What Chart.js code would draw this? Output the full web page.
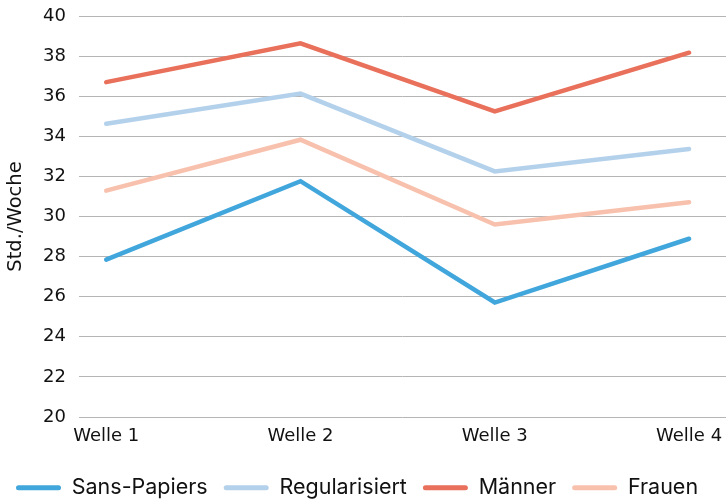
<!DOCTYPE html>
<html>
<head>
<meta charset="utf-8">
<script src="https://cdn.jsdelivr.net/npm/chart.js@4.4.1/dist/chart.umd.min.js"></script>
<style>
  html, body { margin: 0; padding: 0; background: #fff; }
  #wrap { width: 726px; height: 500px; }
</style>
</head>
<body>
<div id="wrap"><canvas id="chart"></canvas></div>
<script>
var waves = ['Welle 1', 'Welle 2', 'Welle 3', 'Welle 4'];
var sansPapiers = [27.85, 31.76, 25.71, 28.89];
var regularisiert = [34.63, 36.13, 32.25, 33.37];
var maenner = [36.70, 38.64, 35.24, 38.17];
var frauen = [31.29, 33.83, 29.60, 30.71];
var yTicks = [20, 22, 24, 26, 28, 30, 32, 34, 36, 38, 40];

function points(values) {
  return values.map(function (v, i) { return { x: i, y: v }; });
}

function series(label, values, color) {
  return {
    label: label,
    data: points(values),
    borderColor: color,
    backgroundColor: color,
    borderWidth: 4.5,
    pointRadius: 0,
    borderCapStyle: 'round',
    borderJoinStyle: 'miter',
    tension: 0
  };
}

// legend keeps its side padding but takes less height
var legendHeight = {
  id: 'legendHeight',
  afterInit: function (chart) {
    var lg = chart.legend;
    var fit = lg.fit;
    lg.fit = function () {
      fit.call(this);
      this.height = 39;
    };
  }
};

var ctx = document.getElementById('chart').getContext('2d');

new Chart(ctx, {
  type: 'line',
  plugins: [legendHeight],
  data: {
    datasets: [
      series('Sans-Papiers', sansPapiers, '#41a6dc'),
      series('Regularisiert', regularisiert, '#b4d1ec'),
      series('Männer', maenner, '#e9705b'),
      series('Frauen', frauen, '#f8c1ad')
    ]
  },
  options: {
    responsive: true,
    maintainAspectRatio: false,
    animation: false,
    layout: { padding: { top: 16, right: 0, left: 0, bottom: 0 } },
    scales: {
      x: {
        type: 'linear',
        min: -0.14,
        max: 3.19,
        grid: { display: false, drawTicks: false },
        border: { display: false },
        afterBuildTicks: function (scale) {
          scale.ticks = waves.map(function (w, i) { return { value: i }; });
        },
        afterFit: function (scale) {
          scale.height = 44;
          scale.paddingLeft = 0;
          scale.paddingRight = 0;
        },
        ticks: {
          includeBounds: false,
          maxRotation: 0,
          autoSkip: false,
          padding: 9,
          color: '#111',
          font: { family: 'DejaVu Sans', size: 18 },
          callback: function (v) { return waves[v]; }
        }
      },
      y: {
        min: 20,
        max: 40,
        afterBuildTicks: function (scale) {
          scale.ticks = yTicks.map(function (t) { return { value: t }; });
        },
        afterFit: function (scale) {
          scale.width = 79;
          scale.paddingTop = 0;
          scale.paddingBottom = 0;
        },
        grid: { color: '#b5b5b5', lineWidth: 1, drawTicks: false },
        border: { display: false },
        ticks: {
          padding: 13,
          color: '#111',
          font: { family: 'DejaVu Sans', size: 18 }
        },
        title: {
          display: true,
          text: 'Std./Woche',
          color: '#111',
          font: { family: 'DejaVu Sans', size: 19.5 },
          padding: { top: 4, bottom: 0 }
        }
      }
    },
    plugins: {
      tooltip: { enabled: false },
      legend: {
        position: 'bottom',
        align: 'start',
        labels: {
          boxWidth: 45,
          boxHeight: 5,
          padding: 16,
          useBorderRadius: true,
          color: '#111',
          font: { family: 'Inter', size: 21.5 },
          generateLabels: function (chart) {
            var items = Chart.defaults.plugins.legend.labels.generateLabels(chart);
            items.forEach(function (it) {
              it.lineWidth = 0;
              it.borderRadius = 2.5;
            });
            return items;
          }
        }
      }
    }
  }
});
</script>
</body>
</html>
